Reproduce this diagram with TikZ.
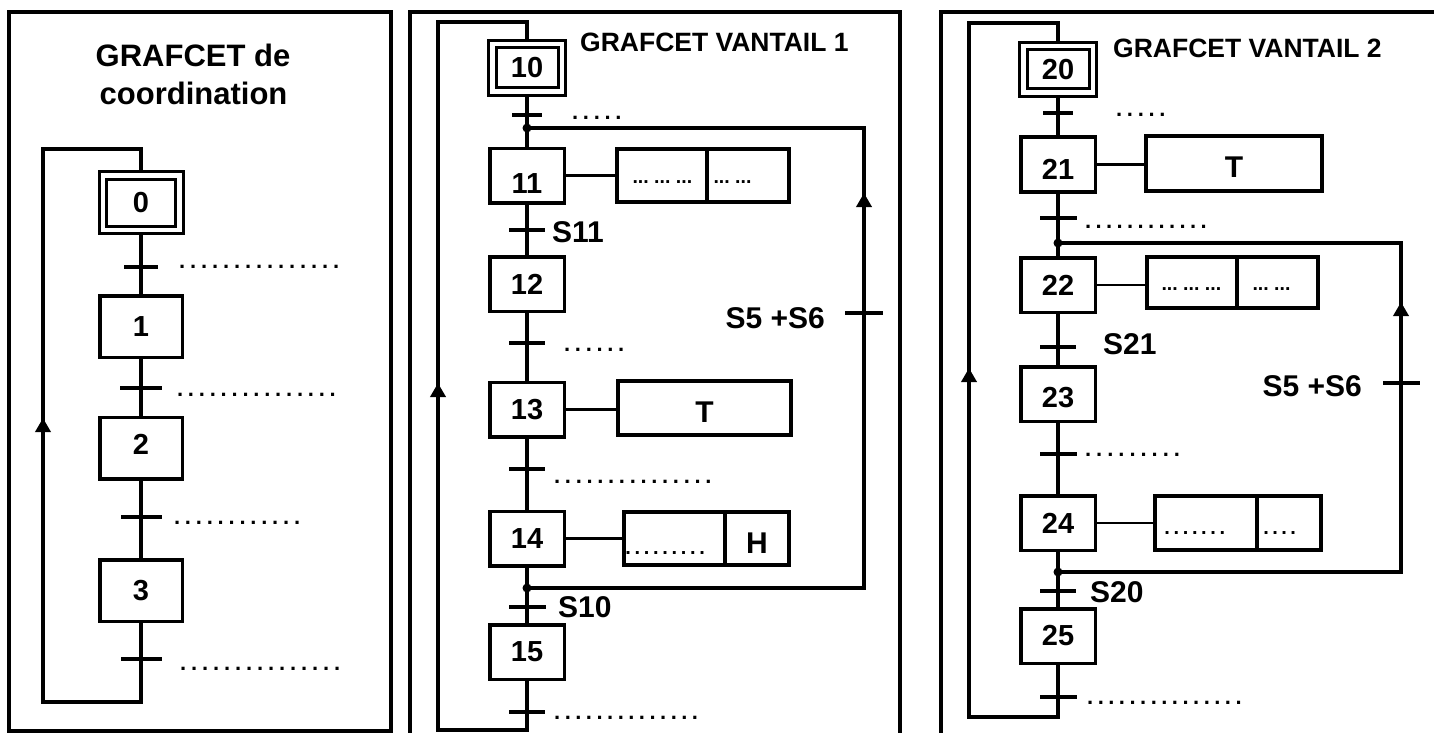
\documentclass[tikz,border=0pt]{standalone}
\usepackage{fontspec}
\setmainfont{Liberation Sans}
\usetikzlibrary{arrows.meta}
\newcommand\dotrowx[2]{\foreach \k in {1,...,#1}{\hbox to #2{\hss.\hss}}}
\newcommand\ellrowx[1]{\foreach \k in {1,...,#1}{\hbox to 21.7pt{...\hss}}}
\begin{document}
\begin{tikzpicture}[x=1pt,y=-1pt,
  ln/.style={line width=3.5pt},
  frame/.style={line width=3.5pt},
  thinln/.style={line width=2.8pt},
  stepbox/.style={draw,line width=3.5pt,inner sep=0pt,minimum width=74.5pt,minimum height=54.5pt,font=\fontsize{29}{29}\bfseries\selectfont},
  lstep/.style={stepbox,minimum width=82.5pt,minimum height=61.5pt},
  initstep/.style={stepbox,double,double distance=4.5pt,line width=3pt,outer sep=5.25pt},
  trans/.style={fill=black,inner sep=0pt,minimum height=4pt,minimum width=#1},
  trans/.default=36pt,
  actbox/.style={draw,line width=3.3pt,inner sep=0pt,font=\fontsize{30}{30}\bfseries\selectfont},
  lbl/.style={inner sep=0pt,font=\fontsize{30}{30}\bfseries\selectfont},
  ttl/.style={inner sep=0pt,font=\fontsize{26.5}{26.5}\bfseries\selectfont},
  bigttl/.style={inner sep=0pt,font=\fontsize{31}{31}\bfseries\selectfont},
  dotsty/.style={inner sep=0pt,anchor=base west,font=\fontsize{22}{22}\bfseries\selectfont},
  adots/.style={inner sep=0pt,anchor=base west,font=\fontsize{19.5}{19.5}\bfseries\selectfont},
  edots/.style={inner sep=0pt,anchor=base west,font=\fontsize{20}{20}\bfseries\selectfont},
  arrowseg/.style={line width=4.5pt,-{Triangle[length=14pt,width=15pt]}}
]
\useasboundingbox (0,0) rectangle (1434,733);

% ---------- frames ----------
\draw[frame] (9,731) -- (9,12) -- (391,12) -- (391,731) -- cycle;
\draw[frame] (410,736) -- (410,12) -- (900,12) -- (900,736);
\draw[frame] (941,736) -- (941,12) -- (1437,12);

% ---------- left: GRAFCET de coordination ----------
\node[bigttl,anchor=base] (titA1) at (193,67) {GRAFCET de};
\node[bigttl,anchor=base] (titA2) at (193.5,105) {coordination};

\node[initstep,minimum width=76.5pt,minimum height=54.5pt] (s0) at (141,202.5) {0};
\node[lstep] (s1) at (141,326.5) {1};
\node[lstep,text depth=8pt] (s2) at (141,448) {2};
\node[lstep] (s3) at (141,590.5) {3};

\node[trans=34pt] (t0) at (141,267) {};
\node[trans=42pt] (t1) at (141,388) {};
\node[trans=41pt] (t2) at (141,517) {};
\node[trans=41pt] (t3) at (141,659) {};

\draw[ln] (s0) -- (t0) -- (s1) -- (t1) -- (s2) -- (t2) -- (s3) -- (t3);
\coordinate (lbl) at (43,702);
\coordinate (ltl) at (43,149);
\draw[ln] (t3) |- (lbl) -- (ltl) -| (s0);
\coordinate (la0) at (43,495);
\coordinate (la1) at (43,418);
\draw[arrowseg] (la0) -- (la1);

\node[dotsty] (dt0) at (176.5,268.6) {\dotrowx{15}{11pt}};
\node[dotsty] (dt1) at (174.5,396.6) {\dotrowx{15}{10.9pt}};
\node[dotsty] (dt2) at (171.5,524.6) {\dotrowx{12}{10.9pt}};
\node[dotsty] (dt3) at (177.5,670.6) {\dotrowx{15}{11pt}};

% ---------- middle: GRAFCET VANTAIL 1 ----------
\node[ttl,anchor=base west] (titB) at (580,52) {GRAFCET VANTAIL 1};

\node[initstep,minimum width=69.5pt,minimum height=47.5pt] (s10) at (527,68) {10};
\node[stepbox,text height=35pt] (s11) at (527,175.5) {11};
\node[stepbox] (s12) at (527,284) {12};
\node[stepbox] (s13) at (527,409.5) {13};
\node[stepbox] (s14) at (527,538.5) {14};
\node[stepbox] (s15) at (527,652) {15};

\node[trans=30pt] (t10) at (527,115) {};
\node[trans] (t11) at (527,230) {};
\node[trans] (t12) at (527,343) {};
\node[trans] (t13) at (527,469) {};
\node[trans=37pt] (t14) at (527,607) {};
\node[trans] (t15) at (527,712) {};

\draw[ln] (s10) -- (t10) -- (s11) -- (t11) -- (s12) -- (t12) -- (s13) -- (t13) -- (s14) -- (t14) -- (s15) -- (t15);
\coordinate (mbl) at (438,730);
\coordinate (mtl) at (438,22);
\draw[ln] (t15) |- (mbl) -- (mtl) -| (s10);
\coordinate (ml0) at (438,448);
\coordinate (ml1) at (438,383);
\draw[arrowseg] (ml0) -- (ml1);

\coordinate (j11) at (527,128);
\coordinate (j14) at (527,588);
\node[trans=38pt] (tr1) at (864,313) {};
\draw[ln] (j14) -| (tr1);
\draw[ln] (tr1) |- (j11);
\fill (j11) circle (4.5pt);
\fill (j14) circle (4.5pt);
\coordinate (mr0) at (864,257);
\coordinate (mr1) at (864,193);
\draw[arrowseg] (mr0) -- (mr1);

\node[actbox,minimum width=90pt,minimum height=53pt] (a11a) at (662,175.5) {};
\node[actbox,minimum width=82pt,minimum height=53pt] (a11b) at (748,175.5) {};
\draw[thinln] (s11) -- (a11a);
\node[actbox,minimum width=173pt,minimum height=54pt,text height=29.5pt] (a13) at (704.5,408) {T};
\draw[thinln] (s13.east) -- (s13.east -| a13.west);
\node[actbox,minimum width=101pt,minimum height=53pt] (a14a) at (674.5,538.5) {};
\node[actbox,minimum width=64pt,minimum height=53pt,text height=30.5pt] (a14b) at (757,538.5) {H};
\draw[thinln] (s14) -- (a14a);

\node[adots] (da11a) at (632.3,183.4) {\ellrowx{3}};
\node[adots] (da11b) at (713.3,183.4) {\ellrowx{2}};
\node[edots] (da14a) at (623.4,554.5) {\dotrowx{9}{9.25pt}};

\node[lbl,anchor=base west] (c11) at (552,242) {S11};
\node[lbl,anchor=base west] (c14) at (558,617) {S10};
\node[lbl,anchor=base east] (cr1) at (825,328) {S5 +S6};

\node[dotsty] (dt10) at (569.6,119.6) {\dotrowx{5}{10.8pt}};
\node[dotsty] (dt12) at (561.6,351.6) {\dotrowx{6}{10.8pt}};
\node[dotsty] (dt13) at (551.6,483.6) {\dotrowx{15}{10.8pt}};
\node[dotsty] (dt15) at (551.7,719.6) {\dotrowx{14}{10.6pt}};

% ---------- right: GRAFCET VANTAIL 2 ----------
\node[ttl,anchor=base west] (titC) at (1113,58) {GRAFCET VANTAIL 2};

\node[initstep,minimum width=69.5pt,minimum height=46.5pt] (s20) at (1058,69.5) {20};
\node[stepbox,text height=29pt] (s21) at (1058,164.5) {21};
\node[stepbox] (s22) at (1058,285) {22};
\node[stepbox,text height=28pt] (s23) at (1058,394) {23};
\node[stepbox] (s24) at (1058,523) {24};
\node[stepbox] (s25) at (1058,636) {25};

\node[trans=30pt] (t20) at (1058,113) {};
\node[trans=37pt] (t21) at (1058,218) {};
\node[trans] (t22) at (1058,347) {};
\node[trans=37pt] (t23) at (1058,454) {};
\node[trans] (t24) at (1058,591) {};
\node[trans=37pt] (t25) at (1058,697) {};

\draw[ln] (s20) -- (t20) -- (s21) -- (t21) -- (s22) -- (t22) -- (s23) -- (t23) -- (s24) -- (t24) -- (s25) -- (t25);
\coordinate (rbl) at (969,717);
\coordinate (rtl) at (969,23);
\draw[ln] (t25) |- (rbl) -- (rtl) -| (s20);
\coordinate (rl0) at (969,433);
\coordinate (rl1) at (969,368);
\draw[arrowseg] (rl0) -- (rl1);

\coordinate (j21) at (1058,243);
\coordinate (j24) at (1058,572);
\node[trans=37pt] (tr2) at (1401,383) {};
\draw[ln] (j24) -| (tr2);
\draw[ln] (tr2) |- (j21);
\fill (j21) circle (4.5pt);
\fill (j24) circle (4.5pt);
\coordinate (rr0) at (1401,345);
\coordinate (rr1) at (1401,302);
\draw[arrowseg] (rr0) -- (rr1);

\node[actbox,minimum width=176pt,minimum height=55pt,text height=28.5pt] (a21) at (1234,163.5) {T};
\draw[thinln] (s21.east) -- (s21.east -| a21.west);
\node[actbox,minimum width=90pt,minimum height=51pt] (a22a) at (1192,282.5) {};
\node[actbox,minimum width=81pt,minimum height=51pt] (a22b) at (1277.5,282.5) {};
\draw[thinln] (s22.east) -- (s22.east -| a22a.west);
\node[actbox,minimum width=102pt,minimum height=54pt] (a24a) at (1206,523) {};
\node[actbox,minimum width=64pt,minimum height=54pt] (a24b) at (1289,523) {};
\draw[thinln] (s24) -- (a24a);

\node[adots] (da22a) at (1161.3,290.4) {\ellrowx{3}};
\node[adots] (da22b) at (1252.3,290.4) {\ellrowx{2}};
\node[edots] (da24a) at (1162.4,534.5) {\dotrowx{7}{9.2pt}};
\node[edots] (da24b) at (1261.5,534.5) {\dotrowx{4}{9pt}};

\node[lbl,anchor=base west] (c22) at (1103,354) {S21};
\node[lbl,anchor=base west] (c24) at (1090,602) {S20};
\node[lbl,anchor=base east] (cr2) at (1362,396) {S5 +S6};

\node[dotsty] (dt20) at (1113.6,116.6) {\dotrowx{5}{10.8pt}};
\node[dotsty] (dt21) at (1082.7,228.6) {\dotrowx{12}{10.5pt}};
\node[dotsty] (dt23) at (1082.4,456.6) {\dotrowx{9}{11.1pt}};
\node[dotsty] (dt25) at (1084.7,704.6) {\dotrowx{15}{10.6pt}};
\end{tikzpicture}
\end{document}
